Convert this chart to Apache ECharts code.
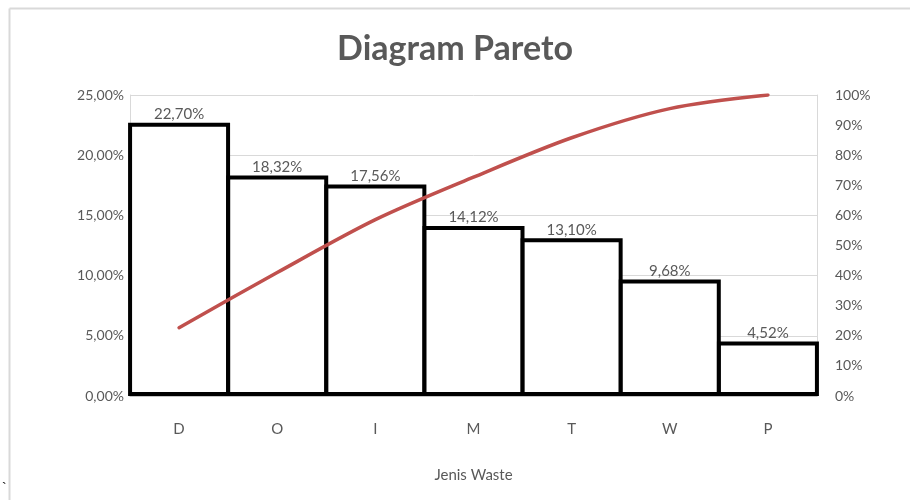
<!DOCTYPE html>
<html><head><meta charset="utf-8">
<script src="https://cdn.jsdelivr.net/npm/echarts@6/dist/echarts.min.js"></script>
<style>html,body{margin:0;padding:0;background:#fff}#c{width:910px;height:500px}</style>
</head><body><div id="c"></div>
<script>
const categories = ['D','O','I','M','T','W','P'];
const wastePct = [22.70, 18.32, 17.56, 14.12, 13.10, 9.68, 4.52];
const cumulativePct = [22.70, 41.02, 58.58, 72.70, 85.80, 95.48, 100.00];
const leftTicks = [0,5,10,15,20,25];
const rightTicks = [0,10,20,30,40,50,60,70,80,90,100];

const F = 'Lato, "Open Sans", sans-serif';
const gray = '#595959';
const fmt2 = v => v.toFixed(2).replace('.', ',') + '%';

const chart = echarts.init(document.getElementById('c'));
chart.setOption({
  animation: false,
  backgroundColor: '#fff',
  title: {
    text: 'Diagram Pareto', left: 'center', top: 27,
    textStyle: {fontFamily: F, fontSize: 34, fontWeight: 'bold', color: gray}
  },
  graphic: [
    {type: 'line', shape: {x1: 9.5, y1: 8.5, x2: 910, y2: 8.5}, style: {stroke: '#d9d9d9', lineWidth: 2}},
    {type: 'line', shape: {x1: 9.5, y1: 8.5, x2: 9.5, y2: 500}, style: {stroke: '#d9d9d9', lineWidth: 2}},
    {type: 'text', left: 2, top: 482, style: {text: '`', fontSize: 14, fill: '#000', font: '14px sans-serif'}}
  ],
  grid: {left: 130, right: 93, top: 95, bottom: 104, containLabel: false},
  xAxis: {
    type: 'category', data: categories,
    name: 'Jenis Waste', nameLocation: 'middle', nameGap: 72,
    nameTextStyle: {fontFamily: F, fontSize: 15, color: gray},
    axisLine: {show: true, lineStyle: {color: '#bfbfbf', width: 1.5}},
    axisTick: {show: false},
    axisLabel: {fontFamily: F, fontSize: 15, color: gray, margin: 26}
  },
  yAxis: [
    {
      type: 'value', min: 0, max: 25, interval: 5,
      axisLine: {show: true, lineStyle: {color: '#d9d9d9'}}, axisTick: {show: false},
      splitLine: {lineStyle: {color: '#d9d9d9', width: 1}},
      axisLabel: {fontFamily: F, fontSize: 14, color: gray, margin: 6, formatter: v => fmt2(v)}
    },
    {
      type: 'value', min: 0, max: 100, interval: 10,
      axisLine: {show: true, lineStyle: {color: '#d9d9d9'}}, axisTick: {show: false},
      splitLine: {show: false},
      axisLabel: {fontFamily: F, fontSize: 14, color: gray, margin: 18, formatter: v => v + '%'}
    }
  ],
  series: [
    {
      type: 'bar', data: wastePct, yAxisIndex: 0,
      barWidth: 102,
      itemStyle: {color: '#ffffff', borderColor: '#000000', borderWidth: 4},
      label: {show: true, position: 'top', distance: 1, fontFamily: F, fontSize: 15, color: gray,
        formatter: p => fmt2(p.value)}
    },
    {
      type: 'line', data: cumulativePct, yAxisIndex: 1,
      smooth: 0.3, symbol: 'none',
      lineStyle: {color: '#c0504d', width: 3.5, cap: 'round'}
    }
  ]
});
</script></body></html>
